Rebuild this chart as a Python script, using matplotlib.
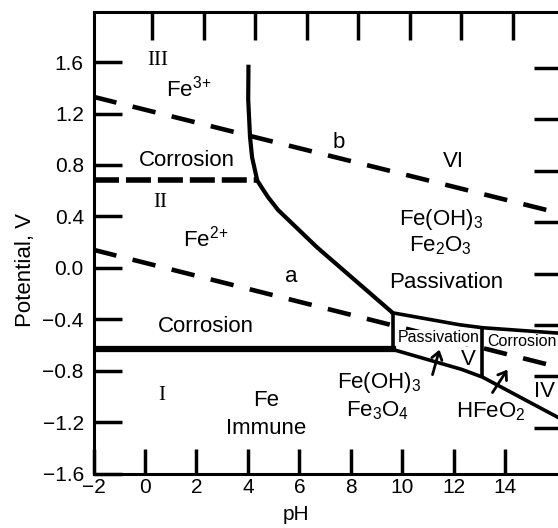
import numpy as np
import matplotlib
matplotlib.use("Agg")
import matplotlib.pyplot as plt

plt.rcParams['font.family'] = ['Liberation Sans', 'DejaVu Sans']
plt.rcParams['mathtext.fontset'] = 'custom'
plt.rcParams['mathtext.rm'] = 'Liberation Sans'
plt.rcParams['mathtext.it'] = 'Liberation Sans:italic'
plt.rcParams['mathtext.default'] = 'regular'
plt.rcParams['lines.scale_dashes'] = False

# boundaries: pH vs potential (V)
line_b_ph = [-2, 16.2]
line_b_v = [1.33, 0.42]
line_a_ph = [-2, 16.2]
line_a_v = [0.14, -0.78]
fe2_fe3_ph = [-2, 4.36]
fe2_fe3_v = [0.68, 0.68]
fe3_ph = [4.02, 4.01, 4.08, 4.16, 4.36, 4.55, 4.78, 5.17, 6.68, 9.62]
fe3_v = [1.58, 1.31, 1.02, 0.86, 0.68, 0.62, 0.55, 0.45, 0.16, -0.35]
immune_ph = [-2, 9.62]
immune_v = [-0.635, -0.635]
pass_top_ph = [9.62, 12.22, 13.11, 16.2]
pass_top_v = [-0.35, -0.443, -0.466, -0.51]
pass_bot_ph = [9.62, 12.3, 13.11, 16.2]
pass_bot_v = [-0.635, -0.79, -0.85, -1.18]
vert_ph = [9.62, 13.11]
vert_lo = [-0.635, -0.85]
vert_hi = [-0.35, -0.466]

xticks = [-2, 0, 2, 4, 6, 8, 10, 12, 14]
xtick_labels = ['\u22122', '0', '2', '4', '6', '8', '10', '12', '14']
yticks = [-1.6, -1.2, -0.8, -0.4, 0.0, 0.4, 0.8, 1.2, 1.6]
ytick_labels = ['\u22121.6', '\u22121.2', '\u22120.8', '\u22120.4', '0.0',
                '0.4', '0.8', '1.2', '1.6']

fig = plt.figure(figsize=(5.58, 5.28), dpi=100)
ax = fig.add_axes([93.5 / 558, 54.5 / 528, (562 - 93.5) / 558, (473.5 - 12) / 528])
ax.set_xlim(-2, 16.2)
ax.set_ylim(-1.6, 1.99)

# dashed water lines and Fe2+/Fe3+ line
l, = ax.plot(line_b_ph, line_b_v, color='black', lw=3.3)
l.set_dashes([17, 12])
l, = ax.plot(line_a_ph, line_a_v, color='black', lw=3.3)
l.set_dashes([17, 12])
l, = ax.plot(fe2_fe3_ph, fe2_fe3_v, color='black', lw=4)
l.set_dashes([18, 5])

# solid boundaries
ax.plot(fe3_ph, fe3_v, color='black', lw=3, solid_capstyle='butt')
ax.plot(immune_ph, immune_v, color='black', lw=4.5)
ax.plot(pass_top_ph, pass_top_v, color='black', lw=2.6)
ax.plot(pass_bot_ph, pass_bot_v, color='black', lw=2.6)
ax.vlines(vert_ph, vert_lo, vert_hi, color='black', lw=2.6)

fs = 16
kw = dict(ha='center', va='baseline', fontsize=fs)
serif = dict(ha='center', va='baseline', fontsize=15, family='Liberation Serif')
ax.text(0.48, 1.577, 'III', **serif)
ax.text(1.70, 1.33, 'Fe$^{3\\!+}$', **kw)
ax.text(1.64, 0.795, 'Corrosion', **kw)
ax.text(0.60, 0.475, 'II', **serif)
ax.text(2.38, 0.163, 'Fe$^{2\\!+}$', **kw)
ax.text(7.53, 0.932, 'b', **kw)
ax.text(11.98, 0.787, 'VI', **kw)
ax.text(11.5, 0.334, 'Fe(OH)$_3$', **kw)
ax.text(11.47, 0.126, 'Fe$_2$O$_3$', **kw)
ax.text(11.7, -0.158, 'Passivation', **kw)
ax.text(5.67, -0.114, 'a', **kw)
ax.text(2.37, -0.50, 'Corrosion', **kw)
ax.text(0.64, -1.025, 'I', **serif)
ax.text(4.71, -1.077, 'Fe', **kw)
ax.text(4.71, -1.29, 'Immune', **kw)
ax.text(11.4, -0.58, 'Passivation', ha='center', va='baseline', fontsize=11.5,
        bbox=dict(facecolor='white', edgecolor='none', pad=0.5), zorder=5)
ax.text(12.57, -0.753, 'V', **kw)
ax.text(13.31, -0.61, 'Corrosion', ha='left', va='baseline', fontsize=11.5)
ax.text(9.08, -0.932, 'Fe(OH)$_3$', **kw)
ax.text(9.04, -1.155, 'Fe$_3$O$_4$', **kw)
ax.text(13.45, -1.165, 'HFeO$_2$', **kw)
ax.text(15.51, -1.007, 'IV', **kw)

arrow = dict(arrowstyle='->, head_length=0.35, head_width=0.25', lw=2,
             color='black', shrinkA=0, shrinkB=0, mutation_scale=15)
ax.annotate('', xy=(11.44, -0.637), xytext=(11.17, -0.831), arrowprops=arrow)
ax.annotate('', xy=(14.08, -0.792), xytext=(13.50, -0.97), arrowprops=arrow)

# axes styling
for s in ax.spines.values():
    s.set_linewidth(2.2)
ax.set_xticks(xticks, xtick_labels)
ax.set_yticks(yticks, ytick_labels)
ax.tick_params(axis='x', direction='in', length=18, width=2.5, labelsize=15, pad=3)
ax.tick_params(axis='y', direction='in', length=20, width=2.5, labelsize=15, pad=7)

top = ax.secondary_xaxis('top', functions=(lambda x: x - 0.29, lambda x: x + 0.29))
top.set_xticks(xticks[1:])
top.tick_params(direction='in', length=20, width=2.5, labeltop=False)
right = ax.secondary_yaxis('right', functions=(lambda v: v + 0.045, lambda v: v - 0.045))
right.set_yticks(yticks[1:])
right.tick_params(direction='in', length=20, width=2.5, labelright=False)

ax.set_xlabel('pH', fontsize=15, va='center')
ax.xaxis.set_label_coords(0.432, -0.088)
ax.set_ylabel('Potential, V', fontsize=16, va='center')
ax.yaxis.set_label_coords(-0.146, 0.441)

fig.savefig('out.png', dpi=100)
